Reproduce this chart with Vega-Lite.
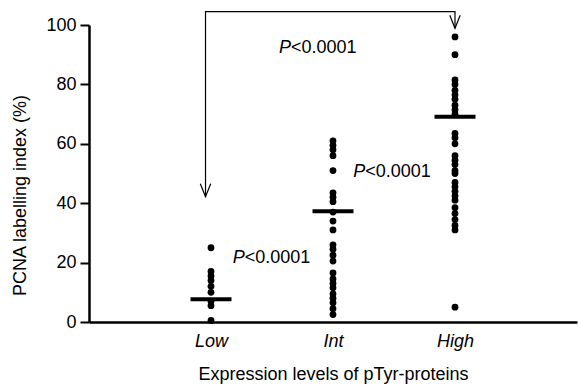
{
  "$schema": "https://vega.github.io/schema/vega-lite/v6.json",
  "width": 488,
  "height": 297,
  "autosize": {"type": "none"},
  "padding": {"left": 89, "top": 25, "right": 1, "bottom": 65},
  "config": {"view": {"stroke": null}, "font": "Liberation Sans"},
  "datasets": {
    "points": [
      {"x": 1, "y": 25}, {"x": 1, "y": 17}, {"x": 1, "y": 15.5}, {"x": 1, "y": 14},
      {"x": 1, "y": 12}, {"x": 1, "y": 10}, {"x": 1, "y": 7}, {"x": 1, "y": 5.5},
      {"x": 1, "y": 0.5},
      {"x": 2, "y": 61}, {"x": 2, "y": 59.5}, {"x": 2, "y": 58}, {"x": 2, "y": 56},
      {"x": 2, "y": 51}, {"x": 2, "y": 43.5}, {"x": 2, "y": 42}, {"x": 2, "y": 40.5},
      {"x": 2, "y": 37}, {"x": 2, "y": 34}, {"x": 2, "y": 31}, {"x": 2, "y": 26},
      {"x": 2, "y": 24.5}, {"x": 2, "y": 22.5}, {"x": 2, "y": 20.5}, {"x": 2, "y": 16.5},
      {"x": 2, "y": 14.5}, {"x": 2, "y": 13}, {"x": 2, "y": 11.5}, {"x": 2, "y": 9.5},
      {"x": 2, "y": 8}, {"x": 2, "y": 6.5}, {"x": 2, "y": 4.5}, {"x": 2, "y": 2.5},
      {"x": 3, "y": 96}, {"x": 3, "y": 90}, {"x": 3, "y": 81.5}, {"x": 3, "y": 80},
      {"x": 3, "y": 78}, {"x": 3, "y": 76.5}, {"x": 3, "y": 75}, {"x": 3, "y": 73},
      {"x": 3, "y": 71.5}, {"x": 3, "y": 70}, {"x": 3, "y": 63.5}, {"x": 3, "y": 62},
      {"x": 3, "y": 60}, {"x": 3, "y": 56}, {"x": 3, "y": 54.5}, {"x": 3, "y": 53},
      {"x": 3, "y": 51}, {"x": 3, "y": 50}, {"x": 3, "y": 47}, {"x": 3, "y": 45.5},
      {"x": 3, "y": 44}, {"x": 3, "y": 42.5}, {"x": 3, "y": 41}, {"x": 3, "y": 38.5},
      {"x": 3, "y": 36.5}, {"x": 3, "y": 34.5}, {"x": 3, "y": 32.5}, {"x": 3, "y": 31},
      {"x": 3, "y": 5}
    ],
    "means": [
      {"x": 1, "y": 7.7},
      {"x": 2, "y": 37.3},
      {"x": 3, "y": 69.1}
    ],
    "bracket": [
      {"order": 1, "x": 0.955, "y": 42.2},
      {"order": 2, "x": 0.955, "y": 104.5},
      {"order": 3, "x": 3.0, "y": 104.5},
      {"order": 4, "x": 3.0, "y": 98.9}
    ],
    "arrows": [
      {"x": 0.955, "y": 42.2},
      {"x": 3.0, "y": 98.9}
    ],
    "labels": [
      {"x": 1.557, "y": 90.5},
      {"x": 2.166, "y": 48.9},
      {"x": 1.178, "y": 19.8}
    ]
  },
  "encoding": {
    "x": {
      "field": "x", "type": "quantitative",
      "scale": {"domain": [0, 4]},
      "axis": {
        "title": "Expression levels of pTyr-proteins",
        "values": [1, 2, 3],
        "labelExpr": "datum.value == 1 ? 'Low' : datum.value == 2 ? 'Int' : 'High'",
        "ticks": false, "grid": false,
        "domainColor": "black", "domainWidth": 2.5,
        "labelFontSize": 18, "labelFontStyle": "italic", "labelColor": "black", "labelPadding": 10,
        "titleFontSize": 18, "titleFontWeight": "normal", "titleColor": "black", "titlePadding": 15
      }
    },
    "y": {
      "field": "y", "type": "quantitative",
      "scale": {"domain": [0, 100]},
      "axis": {
        "title": "PCNA labelling index (%)",
        "values": [0, 20, 40, 60, 80, 100],
        "grid": false,
        "domainColor": "black", "domainWidth": 2.5,
        "tickColor": "black", "tickWidth": 2, "tickSize": 9,
        "labelFontSize": 18, "labelColor": "black", "labelPadding": 4,
        "titleFontSize": 18, "titleFontWeight": "normal", "titleColor": "black", "titlePadding": 16,
        "titleY": 170
      }
    }
  },
  "layer": [
    {
      "data": {"name": "points"},
      "mark": {"type": "circle", "size": 46, "color": "black", "opacity": 1}
    },
    {
      "data": {"name": "means"},
      "mark": {"type": "tick", "orient": "horizontal", "size": 41, "thickness": 4, "color": "black", "opacity": 1}
    },
    {
      "data": {"name": "bracket"},
      "mark": {"type": "line", "color": "black", "strokeWidth": 1.2},
      "encoding": {
        "order": {"field": "order"}
      }
    },
    {
      "data": {"name": "arrows"},
      "mark": {"type": "point", "shape": "M-0.8,-2L0,0L0.8,-2", "size": 169, "filled": false, "stroke": "black", "strokeWidth": 1.2, "opacity": 1}
    },
    {
      "data": {"name": "labels"},
      "mark": {"type": "text", "text": "P", "fontStyle": "italic", "fontSize": 18, "align": "left", "baseline": "alphabetic", "color": "black"}
    },
    {
      "data": {"name": "labels"},
      "mark": {"type": "text", "text": "<0.0001", "fontSize": 18, "align": "left", "baseline": "alphabetic", "dx": 12, "color": "black"}
    }
  ]
}
